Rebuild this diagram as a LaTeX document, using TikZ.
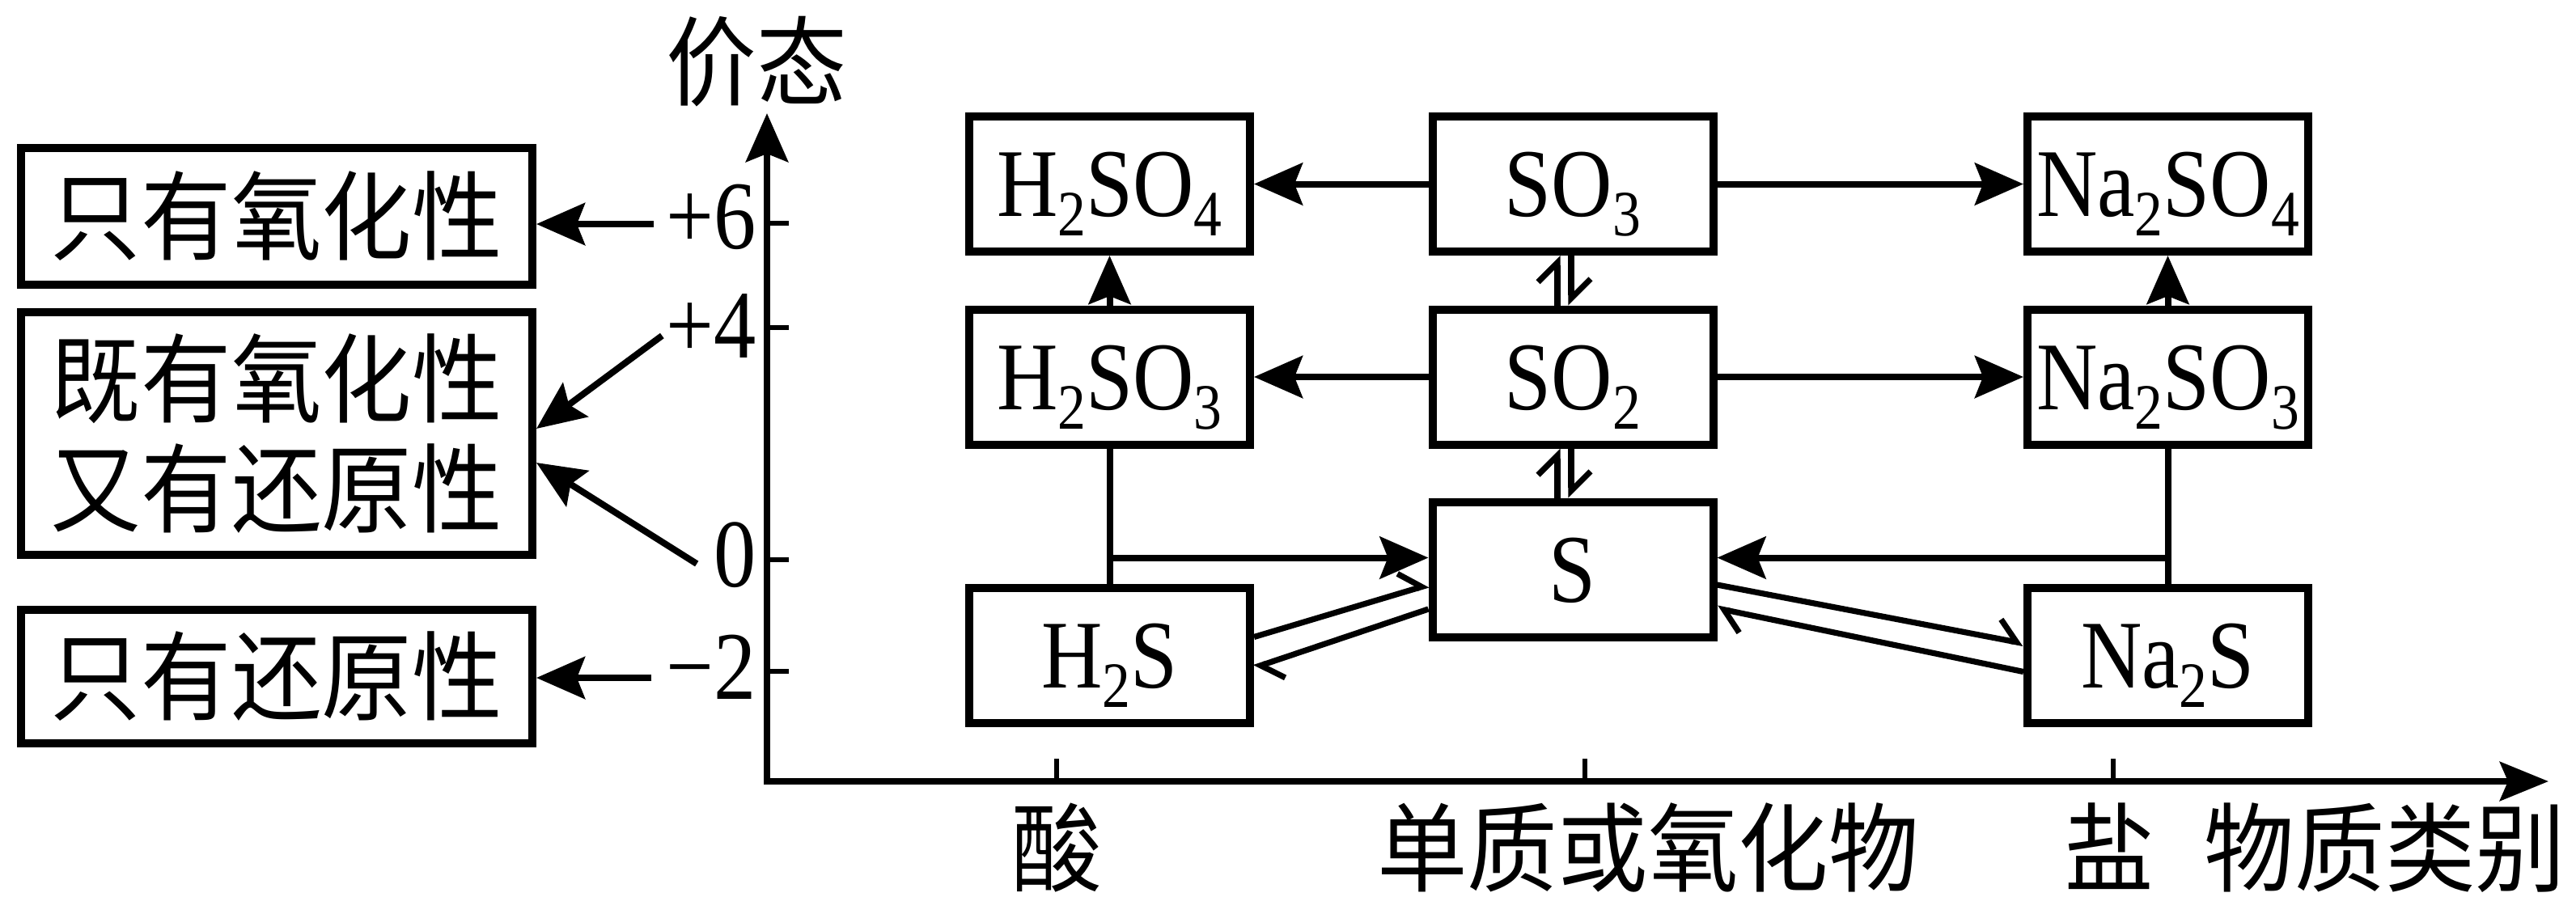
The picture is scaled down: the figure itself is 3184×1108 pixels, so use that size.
\documentclass[tikz,border=0pt]{standalone}
\usepackage{fontspec}
\setmainfont{Liberation Serif}[FakeStretch=0.87]
\newfontfamily\cjk{Noto Sans CJK SC}[FakeStretch=0.93]
\usetikzlibrary{arrows.meta,calc}
\newcommand\sbs[1]{\raisebox{-6pt}{\fontsize{20}{20}\selectfont #1}}
\begin{document}
\begin{tikzpicture}[x=0.25pt,y=-0.25pt,
 fbox/.style={draw,line width=2.5pt,inner sep=0pt,minimum width=86.75pt,minimum height=41.75pt,font=\fontsize{30}{36}\selectfont,text height=20pt,text depth=0pt},
 cbox/.style={draw,line width=2.5pt,inner sep=0pt,minimum width=158pt,font=\cjk\fontsize{30}{34}\selectfont,align=center},
 cn/.style={inner sep=0pt,font=\cjk\fontsize{30}{34}\selectfont},
 num/.style={inner sep=0pt,anchor=east,font=\fontsize{30}{36}\selectfont},
 arr/.style={line width=2pt,-{Stealth[length=15pt,width=13pt,inset=2.5pt]}},
 conn/.style={line width=2pt},
 harp/.style={line width=1.8pt,-{Straight Barb[harpoon,length=6pt,width=12pt]}},
 axis/.style={line width=2.2pt},
 tck/.style={line width=1.6pt}]

\path[use as bounding box,fill=white] (0,0) rectangle (3184,1108);

% left property boxes
\node[cbox,minimum height=42.25pt] (B1) at (342,267.5) {只有氧化性};
\node[cbox,minimum height=75pt] (B2) at (342,536) {既有氧化性\\又有还原性};
\node[cbox,minimum height=41.25pt] (B3) at (342,836.5) {只有还原性};

% axes
\coordinate (O) at (948,966);
\coordinate (yt) at (948,140);
\coordinate (xt) at (3150,966);
\draw[axis,{Stealth[length=15pt,width=13pt,inset=2.5pt]}-{Stealth[length=15pt,width=12pt,inset=2.5pt]}] (yt) -- (O) -- (xt);
\foreach \y in {276,405,692,830} \draw[tck] (948,\y) -- (975,\y);
\foreach \x in {1306,1959,2612} \draw[tck] (\x,966) -- (\x,938);

\node[cn] (jt) at (935,76) {价态};
\node[cn] (ca) at (1306,1048) {酸};
\node[cn] (cb) at (2037,1048) {单质或氧化物};
\node[cn] (cc) at (2607,1046) {盐};
\node[cn] (cd) at (2948,1048) {物质类别};

% valence labels
\node[num] (l6) at (935,268) {+6};
\node[num] (l4) at (935,403) {+4};
\node[num] (l0) at (935,686) {0};
\node[num] (lm) at (935,825) {−2};

\coordinate (s6) at ($(l6.west)+(-14,9)$);
\coordinate (s4) at ($(l4.west)+(-4,12)$);
\coordinate (s0) at ($(l0.west)+(-20,11)$);
\coordinate (sm) at ($(lm.west)+(-17,13)$);
\draw[arr] (s6) -- (s6 -| B1.east);
\draw[arr] (s4) -- ($(B2.east)+(0,-6)$);
\draw[arr] (s0) -- ($(B2.east)+(0,36)$);
\draw[arr] (sm) -- (sm -| B3.east);

% substance boxes
\node[fbox] (H2SO4) at (1371.5,227.5) {H\sbs{2}SO\sbs{4}};
\node[fbox] (SO3) at (1944,227.5) {SO\sbs{3}};
\node[fbox] (Na2SO4) at (2679.5,227.5) {Na\sbs{2}SO\sbs{4}};
\node[fbox] (H2SO3) at (1371.5,466) {H\sbs{2}SO\sbs{3}};
\node[fbox] (SO2) at (1944,466) {SO\sbs{2}};
\node[fbox] (Na2SO3) at (2679.5,466) {Na\sbs{2}SO\sbs{3}};
\node[fbox] (S) at (1944,704) {S};
\node[fbox] (H2S) at (1371.5,810.5) {H\sbs{2}S};
\node[fbox] (Na2S) at (2679.5,810.5) {Na\sbs{2}S};

% connectors
\draw[arr] (SO3) -- (H2SO4);
\draw[arr] (SO3) -- (Na2SO4);
\draw[arr] (SO2) -- (H2SO3);
\draw[arr] (SO2) -- (Na2SO3);
\draw[arr] (H2SO3) -- (H2SO4);
\draw[arr] (Na2SO3) -- (Na2SO4);
\draw[conn] (H2SO3) -- (H2S);
\draw[conn] (Na2SO3) -- (Na2S);
\path (H2SO3.south) ++(0,135) coordinate (j1);
\path (Na2SO3.south) ++(0,135) coordinate (j2);
\draw[arr] (j1) -- (j1 -| S.west);
\draw[arr] (j2) -- (j2 -| S.east);

% reversible pairs
\draw[harp] ($(SO2.north)+(-19,0)$) -- ($(SO3.south)+(-19,0)$);
\draw[harp] ($(SO3.south)+(-2,0)$) -- ($(SO2.north)+(-2,0)$);
\draw[harp] ($(S.north)+(-19,0)$) -- ($(SO2.south)+(-19,0)$);
\draw[harp] ($(SO2.south)+(-2,0)$) -- ($(S.north)+(-2,0)$);
\draw[harp] ($(H2S.east)+(0,-23)$) -- ($(S.west)+(0,19)$);
\draw[harp] ($(S.west)+(0,49)$) -- ($(H2S.east)+(0,15)$);
\draw[harp] ($(S.east)+(0,19)$) -- ($(Na2S.west)+(0,-15)$);
\draw[harp] ($(Na2S.west)+(0,20)$) -- ($(S.east)+(0,48)$);
\end{tikzpicture}
\end{document}
